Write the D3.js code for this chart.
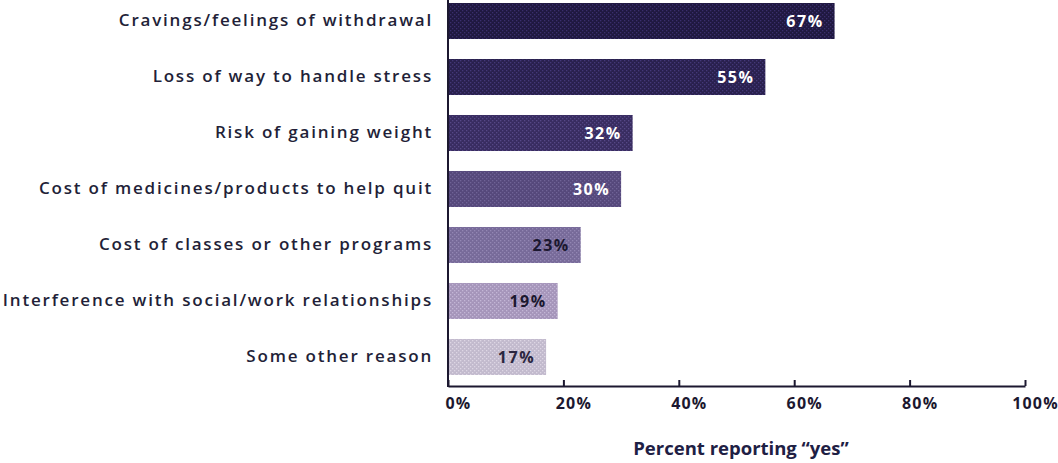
<!DOCTYPE html>
<html>
<head>
<meta charset="utf-8">
<script src="https://cdn.jsdelivr.net/npm/d3@7"></script>
<style>
  html, body { margin: 0; padding: 0; background: #fff; }
  svg { display: block; }
  text { font-family: "Open Sans", "Noto Sans", sans-serif; }
</style>
</head>
<body>
<svg id="chart" width="1058" height="463"></svg>
<script>
// Reasons reported as barriers to quitting
const categories = [
  "Cravings/feelings of withdrawal",
  "Loss of way to handle stress",
  "Risk of gaining weight",
  "Cost of medicines/products to help quit",
  "Cost of classes or other programs",
  "Interference with social/work relationships",
  "Some other reason"
];
const values = [67, 55, 32, 30, 23, 19, 17];
const tickValues = [0, 20, 40, 60, 80, 100];
const tickLabels = ["0%", "20%", "40%", "60%", "80%", "100%"];
const axisTitle = "Percent reporting \u201cyes\u201d";

// Bar shades, darkest to lightest, with a dot colour for the halftone texture
const barFills = ["#1f1840", "#29204e", "#382c60", "#55487b", "#776a99", "#a595ba", "#c2bacd"];
const dotFills = ["#3a2e6c", "#443878", "#564886", "#6f6396", "#9386b3", "#c3b6d6", "#ddd6e4"];
const labelFills = ["#ffffff", "#ffffff", "#ffffff", "#ffffff", "#1c1830", "#1c1830", "#2a2640"];

const svg = d3.select("#chart");

const x = d3.scaleLinear().domain([0, 100]).range([448, 1025]);
const y = d3.scaleBand().domain(categories).range([3, 375]).paddingInner(0.357).paddingOuter(0);
const axisY = 386;

// Halftone patterns for each bar
const defs = svg.append("defs");
barFills.forEach((c, i) => {
  const p = defs.append("pattern")
    .attr("id", "pat" + i)
    .attr("patternUnits", "userSpaceOnUse")
    .attr("width", 4).attr("height", 4);
  p.append("rect").attr("width", 4).attr("height", 4).attr("fill", c);
  p.append("rect").attr("x", 0).attr("y", 0).attr("width", 1.3).attr("height", 1.3).attr("fill", dotFills[i]);
  p.append("rect").attr("x", 2).attr("y", 2).attr("width", 1.3).attr("height", 1.3).attr("fill", dotFills[i]);
});

// Bars
svg.append("g").selectAll("rect")
  .data(values)
  .join("rect")
  .attr("x", x(0))
  .attr("y", (d, i) => y(categories[i]))
  .attr("width", d => x(d) - x(0))
  .attr("height", y.bandwidth())
  .attr("fill", (d, i) => "url(#pat" + i + ")");

// Value labels inside bar ends
svg.append("g").selectAll("text")
  .data(values)
  .join("text")
  .attr("x", d => x(d) - 11)
  .attr("y", (d, i) => y(categories[i]) + y.bandwidth() / 2)
  .attr("dy", "0.36em")
  .attr("text-anchor", "end")
  .attr("font-size", 16)
  .attr("font-weight", 700)
  .attr("letter-spacing", 1.5)
  .attr("fill", (d, i) => labelFills[i])
  .text(d => d + "%");

// Category labels
svg.append("g").selectAll("text")
  .data(categories)
  .join("text")
  .attr("x", 433)
  .attr("y", d => y(d) + y.bandwidth() / 2 - 1)
  .attr("dy", "0.36em")
  .attr("text-anchor", "end")
  .attr("font-size", 17)
  .attr("font-weight", 600)
  .attr("letter-spacing", 1.8)
  .attr("fill", "#231f38")
  .text(d => d);

// Value axis with upward ticks
const xAxis = d3.axisBottom(x)
  .tickValues(tickValues)
  .tickFormat((d, i) => tickLabels[i])
  .tickSizeInner(-6)
  .tickSizeOuter(0)
  .tickPadding(12);

const gx = svg.append("g")
  .attr("transform", `translate(0,${axisY})`)
  .call(xAxis);
gx.select(".domain").attr("stroke", "#1c1830").attr("stroke-width", 2);
gx.selectAll(".tick line").attr("stroke", "#1c1830").attr("stroke-width", 2);
gx.selectAll(".tick text")
  .attr("x", 10)
  .attr("font-size", 16)
  .attr("font-weight", 700)
  .attr("letter-spacing", 1.2)
  .attr("font-family", "'Open Sans', sans-serif")
  .attr("fill", "#1c1830");

// Category axis line
svg.append("line")
  .attr("x1", x(0)).attr("x2", x(0))
  .attr("y1", 0).attr("y2", axisY + 1)
  .attr("stroke", "#1c1830").attr("stroke-width", 2);

// Axis title
svg.append("text")
  .attr("x", 741)
  .attr("y", 455)
  .attr("text-anchor", "middle")
  .attr("font-size", 18.5)
  .attr("font-weight", 700)
  .attr("fill", "#1e2044")
  .text(axisTitle);
</script>
</body>
</html>
